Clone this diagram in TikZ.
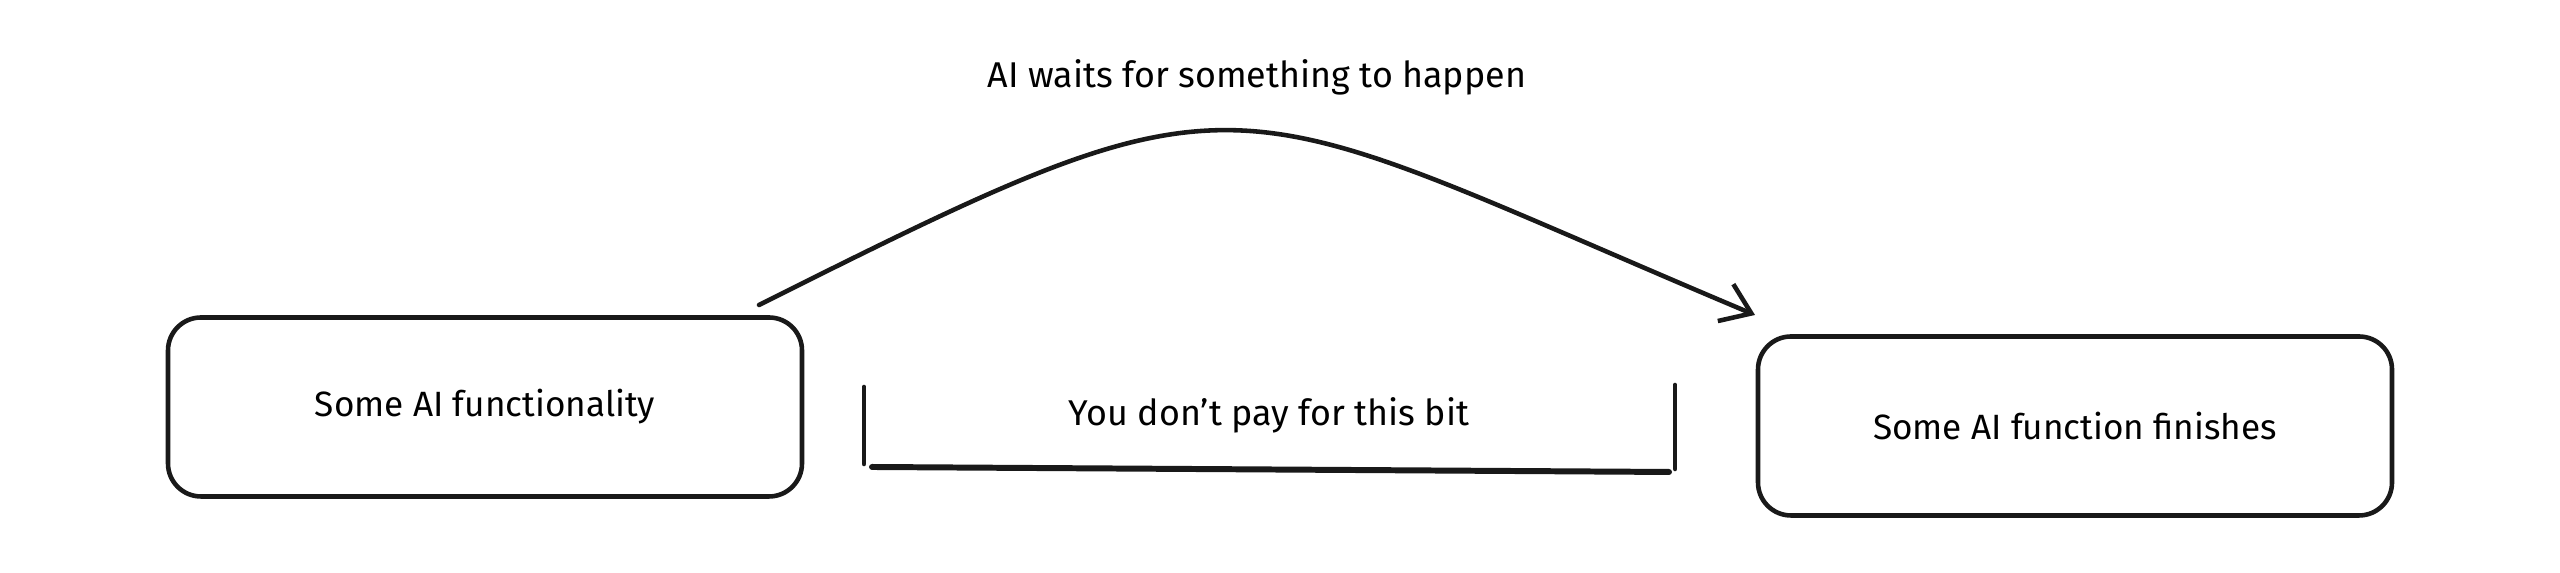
\documentclass[tikz,border=0pt]{standalone}
\usepackage{fontspec}
\setmainfont{Fira Sans}
\usepackage{tikz}
\usetikzlibrary{positioning}
\usetikzlibrary{arrows.meta}
\tikzset{roundednode/.style={rectangle, draw=black!90, line width=1.3pt, rounded corners=0.33cm, minimum width=6.34cm, minimum height=1.79cm, font=\fontsize{10}{12}\selectfont}}
\tikzset{labelnode/.style={font=\fontsize{10.2}{12}\selectfont}}
\tikzset{sketchline/.style={draw=black!90, line width=1.3pt, line cap=round}}

\begin{document}
\begin{tikzpicture}
    \useasboundingbox (0,0) rectangle (25.6,5.73);

    \node[roundednode]    (start)     at (4.85,1.66)     {Some AI functionality};
    \node[roundednode]    (finish)    at (20.75,1.47)    {Some AI function finishes};
    \node[labelnode]      (wait)      at (12.57,4.96)    {AI waits for something to happen};
    \node[labelnode]      (free)      at (12.69,1.58)    {You don't pay for this bit};

    \coordinate (from) at (7.59,2.68);
    \coordinate (to)   at (17.55,2.58);
    \draw[sketchline, -{Straight Barb[length=0.28cm, width=0.4cm, line width=1.3pt]}] (from) .. controls (12.58,5.18) and (12.13,4.86) .. (to);

    % bracket under the free bit
    \draw[sketchline] (8.64,1.86) -- (8.64,1.09);
    \draw[sketchline, line width=1.7pt] (8.72,1.06) -- (16.69,1.01);
    \draw[sketchline] (16.75,1.88) -- (16.75,1.04);
\end{tikzpicture}
\end{document}
